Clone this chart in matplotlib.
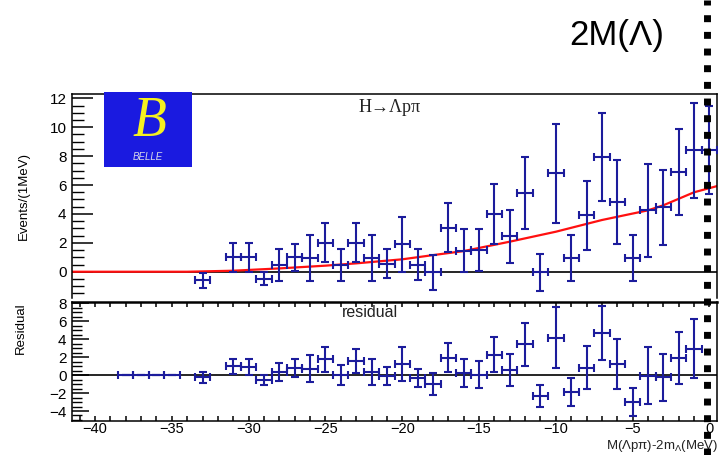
import numpy as np
import matplotlib
matplotlib.use("Agg")
import matplotlib.pyplot as plt
import matplotlib.transforms as mtransforms
from matplotlib.lines import Line2D

plt.rcParams['font.family'] = ['Liberation Sans', 'DejaVu Sans']
plt.rcParams['mathtext.fontset'] = 'custom'
plt.rcParams['mathtext.rm'] = 'Liberation Sans'
plt.rcParams['mathtext.it'] = 'Liberation Sans'

# data points, top panel (events per 1 MeV)
bins_top = [-33, -31, -30, -29, -28, -27, -26, -25, -24, -23, -22, -21, -20, -19, -18, -17,
            -16, -15, -14, -13, -12, -11, -10, -9, -8, -7, -6, -5, -4, -3, -2, -1, 0]
events = [-0.6, 1.0, 1.0, -0.5, 0.45, 1.0, 0.95, 2.0, 0.45, 2.0, 0.95, 0.55, 1.9, 0.5, -0.05, 3.05,
          1.45, 1.5, 4.0, 2.45, 5.45, -0.05, 6.8, 0.95, 3.9, 7.95, 4.85, 0.95, 4.25, 4.45, 6.9, 8.4, 8.45]
events_err = [0.5, 1.0, 1.0, 0.45, 1.1, 0.95, 1.6, 1.35, 1.1, 1.35, 1.6, 1.0, 1.9, 1.05, 1.2, 1.7,
              1.5, 1.45, 2.05, 1.85, 2.5, 1.25, 3.4, 1.6, 2.4, 3.05, 2.9, 1.6, 3.2, 2.6, 2.95, 3.3, 3.05]

# fit curve
fit_x = [-41.5, -34, -31, -28, -25, -23, -20, -18, -16, -13, -10, -7, -4, -3, -2, -1, 0.5]
fit_y = [0, 0, 0.07, 0.23, 0.42, 0.58, 0.86, 1.15, 1.43, 2.08, 2.77, 3.58, 4.25, 4.6, 5.05, 5.5, 5.93]

# residual panel
bins_res = [-33, -31, -30, -29, -28, -27, -26, -25, -24, -23, -22, -21, -20, -19, -18, -17,
            -16, -15, -14, -13, -12, -11, -10, -9, -8, -7, -6, -5, -4, -3, -2, -1]
residual = [-0.25, 1.0, 0.92, -0.55, 0.35, 0.8, 0.7, 1.75, 0.0, 1.55, 0.35, -0.1, 1.25, -0.3, -1.0, 1.95,
            0.2, 0.05, 2.3, 0.6, 3.45, -2.35, 4.15, -1.85, 0.85, 4.7, 1.2, -3.0, -0.05, -0.25, 1.9, 2.95]
residual_err = [0.62, 0.85, 0.9, 0.6, 1.05, 1.0, 1.5, 1.35, 1.1, 1.35, 1.5, 1.0, 1.85, 1.0, 1.2, 1.65,
                1.55, 1.5, 1.95, 1.8, 2.4, 1.2, 3.4, 1.55, 2.4, 3.0, 2.8, 1.6, 3.15, 2.65, 2.9, 3.3]
empty_bins = [-38, -37, -36, -35]

threshold = -0.15   # 2M(Lambda) line position

blue = '#1c1c9c'
ebar = dict(fmt='none', ecolor=blue, elinewidth=1.5, capsize=2.6, capthick=1.5)

fig = plt.figure(figsize=(7.2, 4.55), dpi=100)
ax1 = fig.add_axes([0.1, 0.345, 0.896, 0.448])
ax2 = fig.add_axes([0.1, 0.075, 0.896, 0.261])

# top panel
ax1.axhline(0, color='black', lw=1.2, zorder=1)
ax1.plot(fit_x, fit_y, color='#ff1010', lw=1.6, zorder=2)
ax1.errorbar(bins_top, events, yerr=events_err, xerr=0.5, zorder=3, **ebar)
ax1.set_xlim(-41.5, 0.5)
ax1.set_ylim(-1.82, 12.29)
ax1.set_yticks(range(0, 13, 2))
ax1.set_yticks(np.arange(-1.5, 12.3, 0.5), minor=True)
ax1.tick_params(axis='y', which='major', direction='in', length=15, width=1.1, labelsize=11, pad=4)
ax1.tick_params(axis='y', which='minor', direction='in', length=8.5, width=1.0)
ax1.tick_params(axis='x', which='both', length=0, labelbottom=False)
ax1.spines['bottom'].set_visible(False)
for s in ['top', 'left', 'right']:
    ax1.spines[s].set_linewidth(1.1)
ax1.set_ylabel('Events/(1MeV)', fontsize=9.5, labelpad=14)
ax1.text(0.493, 0.936, 'H\u2192\u039bp\u03c0', transform=ax1.transAxes, ha='center', va='center',
         fontsize=13, family=['Liberation Serif', 'DejaVu Serif'], color='#222222')

# residual panel
ax2.axhline(0, color='black', lw=1.2, zorder=1)
ax2.errorbar(empty_bins, [0] * len(empty_bins), yerr=0, xerr=0.5, zorder=3, **ebar)
ax2.errorbar(bins_res, residual, yerr=residual_err, xerr=0.5, zorder=3, **ebar)
ax2.set_xlim(-41.5, 0.5)
ax2.set_ylim(-5.1, 8.14)
ax2.set_yticks(range(-4, 9, 2))
ax2.set_yticks(np.arange(-5, 8.1, 0.5), minor=True)
ax2.set_xticks(range(-40, 1, 5))
ax2.set_xticks(range(-41, 1), minor=True)
ax2.tick_params(axis='y', which='major', direction='in', length=12.5, width=1.1, labelsize=11, pad=4)
ax2.tick_params(axis='y', which='minor', direction='in', length=7, width=1.0)
ax2.tick_params(axis='x', which='both', direction='in', top=True, length=3.5, width=1.1,
                labelsize=10.5, pad=1.0)
for s in ax2.spines.values():
    s.set_linewidth(1.1)
ax2.spines['top'].set_linewidth(1.8)
ax2.set_ylabel('Residual', fontsize=9.5, labelpad=12)
ax2.yaxis.set_label_coords(-0.07, 0.78)
ax2.text(0.462, 0.91, 'residual', transform=ax2.transAxes, ha='center', va='center',
         fontsize=11.5, color='#222222')

# x axis title
fig.text(0.997, 0.002, r'M($\Lambda$p$\pi$)-2m$_{\Lambda}$(MeV)', ha='right', va='bottom',
         fontsize=9.5, color='#222222')

# Belle logo
logo = fig.add_axes([104 / 720, (455 - 167) / 455, 88 / 720, 75 / 455])
logo.set_facecolor('#1a1ae0')
logo.set_xticks([])
logo.set_yticks([])
for s in logo.spines.values():
    s.set_visible(False)
logo.text(0.52, 0.6, 'B', ha='center', va='center', fontsize=40, color='#f5f020',
          style='italic', family=['Liberation Serif', 'DejaVu Serif'])
logo.text(0.5, 0.13, 'BELLE', ha='center', va='center', fontsize=7, color='#d8d8e8', style='italic')

# 2M(Lambda) marker line and label
trans = mtransforms.blended_transform_factory(ax1.transData, fig.transFigure)
fig.add_artist(Line2D([threshold, threshold], [0, 1], transform=trans, color='black',
                      lw=5.0, ls=(0, (1, 1.4)), solid_capstyle='butt', dash_capstyle='butt', zorder=10))
fig.text(0.856, 1 - 36 / 455, '2M(\u039b)', ha='center', va='center', fontsize=25, color='black')

fig.savefig('out.png', dpi=100)
